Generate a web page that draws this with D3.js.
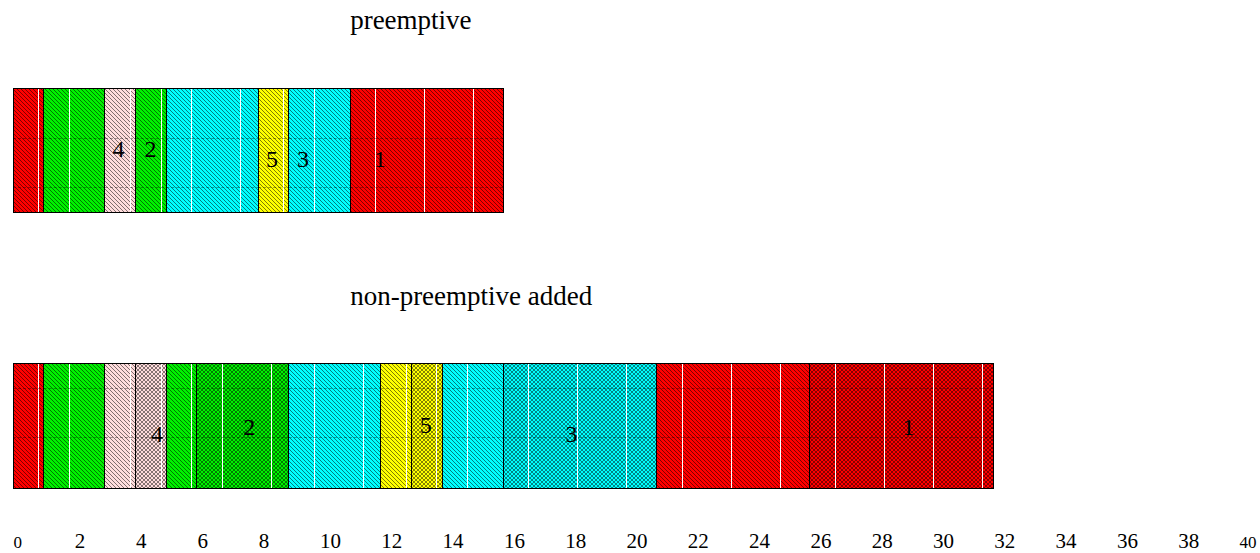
<!DOCTYPE html>
<html>
<head>
<meta charset="utf-8">
<script src="https://cdn.jsdelivr.net/npm/d3@7"></script>
<style>
  body { margin: 0; background: #fff; }
  svg { display: block; }
</style>
</head>
<body>
<svg id="chart" width="1260" height="553"></svg>
<script>
// task ids and their fill colours
const taskIds = [1, 2, 3, 4, 5];
const taskColors = ["#ff0000", "#00f000", "#00ffff", "#ffdcdc", "#ffff00"];

const rowTitles = ["preemptive", "non-preemptive added"];

// [task, start, end, crosshatched]
const preemptiveSegs = [
  [1, 0, 1, 0], [2, 1, 3, 0], [4, 3, 4, 0], [2, 4, 5, 0],
  [3, 5, 8, 0], [5, 8, 9, 0], [3, 9, 11, 0], [1, 11, 16, 0]
];
const nonPreemptiveSegs = [
  [1, 0, 1, 0], [2, 1, 3, 0], [4, 3, 4, 0], [4, 4, 5, 1],
  [2, 5, 6, 0], [2, 6, 9, 1], [3, 9, 12, 0], [5, 12, 13, 0],
  [5, 13, 14, 1], [3, 14, 16, 0], [3, 16, 21, 1], [1, 21, 26, 0],
  [1, 26, 32, 1]
];

// task number labels: [task, time, baseline as fraction of bar height]
const preemptiveLabels = [[4, 3.44, 0.56], [2, 4.49, 0.56], [5, 8.45, 0.64], [3, 9.46, 0.64], [1, 11.97, 0.64]];
const nonPreemptiveLabels = [[4, 4.70, 0.63], [2, 7.71, 0.57], [5, 13.47, 0.56], [3, 18.22, 0.63], [1, 29.22, 0.57]];

const tickValues = [0, 2, 4, 6, 8, 10, 12, 14, 16, 18, 20, 22, 24, 26, 28, 30, 32, 34, 36, 38, 40];

const rows = [
  {title: rowTitles[0], segs: preemptiveSegs, labels: preemptiveLabels},
  {title: rowTitles[1], segs: nonPreemptiveSegs, labels: nonPreemptiveLabels}
];

const serif = "Liberation Serif, Tinos, Nimbus Roman, FreeSerif, DejaVu Serif, Times New Roman, Times, serif";
const svg = d3.select("#chart");
const tile = 49;   // fill tile size, gives the light seams
const cell = 4;    // hatch period in pixels

let x = d3.scaleLinear().domain([0, 40]).range([13, 1239]);
let rowY = d3.scaleBand().domain(rowTitles).range([88, 488]).paddingInner(0.5507);
let frac = d3.scaleLinear().domain([0, 1]).range([0, rowY.bandwidth()]);
let color = d3.scaleOrdinal().domain(taskIds).range(taskColors);

const defs = svg.append("defs");

function hatchLines(x0, x1, top, h, cross) {
  let p = d3.path();
  let start = Math.floor((x0 - h) / cell) * cell;
  for (let a = start; a <= x1; a += cell) {
    p.moveTo(a, top);
    p.lineTo(a + h, top + h);
    if (cross) {
      p.moveTo(a, top + h);
      p.lineTo(a + h, top);
    }
  }
  return p.toString();
}

rows.forEach((row, r) => {
  let top = rowY(row.title);
  let h = rowY.bandwidth();
  let g = svg.append("g");

  row.segs.forEach((s, i) => {
    let x0 = x(s[1]), x1 = x(s[2]);
    let id = "clip-" + r + "-" + i;
    defs.append("clipPath").attr("id", id)
      .append("rect")
        .attr("x", x0).attr("y", top)
        .attr("width", x1 - x0).attr("height", h);

    let sg = g.append("g").attr("clip-path", "url(#" + id + ")");
    sg.append("rect")
      .attr("x", x0).attr("y", top)
      .attr("width", x1 - x0).attr("height", h)
      .style("fill", color(s[0]));
    sg.append("path")
      .attr("d", hatchLines(x0, x1, top, h, s[3]))
      .style("stroke", "#000")
      .style("stroke-width", 1)
      .style("stroke-opacity", s[3] ? 0.48 : 0.5)
      .style("shape-rendering", "crispEdges")
      .style("fill", "none");

    // tile seams of the area fill
    for (let sx = Math.round(x0) + tile / 2; sx < x1 - 2; sx += tile) {
      sg.append("line")
        .attr("x1", Math.round(sx) + 0.5).attr("x2", Math.round(sx) + 0.5)
        .attr("y1", top).attr("y2", top + h)
        .style("stroke", "#fff")
        .style("stroke-width", 1);
    }
    for (let sy = top + (r === 0 ? tile + 1 : tile / 2); sy < top + h - 2; sy += tile) {
      sg.append("line")
        .attr("x1", x0).attr("x2", x1)
        .attr("y1", Math.round(sy) + 0.5).attr("y2", Math.round(sy) + 0.5)
        .style("stroke", "#000")
        .style("stroke-opacity", 0.35)
        .style("stroke-dasharray", "3,2")
        .style("stroke-width", 1);
    }
  });

  g.selectAll(".seg")
    .data(row.segs)
    .enter()
    .append("rect")
      .attr("x", d => x(d[1]))
      .attr("y", top)
      .attr("width", d => x(d[2]) - x(d[1]))
      .attr("height", h)
      .style("fill", "none")
      .style("stroke", "#000")
      .style("stroke-width", 1)
      .style("shape-rendering", "crispEdges");

  g.selectAll(".lbl")
    .data(row.labels)
    .enter()
    .append("text")
      .attr("x", d => x(d[1]))
      .attr("y", d => top + frac(d[2]))
      .attr("font-family", serif)
      .attr("font-size", 24)
      .attr("text-anchor", "middle")
      .text(d => d[0]);

  svg.append("text")
    .attr("x", x(11))
    .attr("y", top - 59)
    .attr("font-family", serif)
    .attr("font-size", 27)
    .text(row.title);
});

// time axis, labels only
let axisG = svg.append("g")
  .attr("transform", "translate(0,548)")
  .call(d3.axisBottom(x).tickValues(tickValues).tickSize(0).tickFormat(d3.format("d")))
  .call(g => g.select(".domain").remove())
  .attr("font-family", serif)
  .attr("font-size", 21);
axisG.selectAll("text")
  .attr("y", 0)
  .attr("dy", 0)
  .attr("text-anchor", "start")
  .attr("fill", "#000")
  .attr("font-size", d => (d === 0 || d === 40) ? 17 : null);
</script>
</body>
</html>
